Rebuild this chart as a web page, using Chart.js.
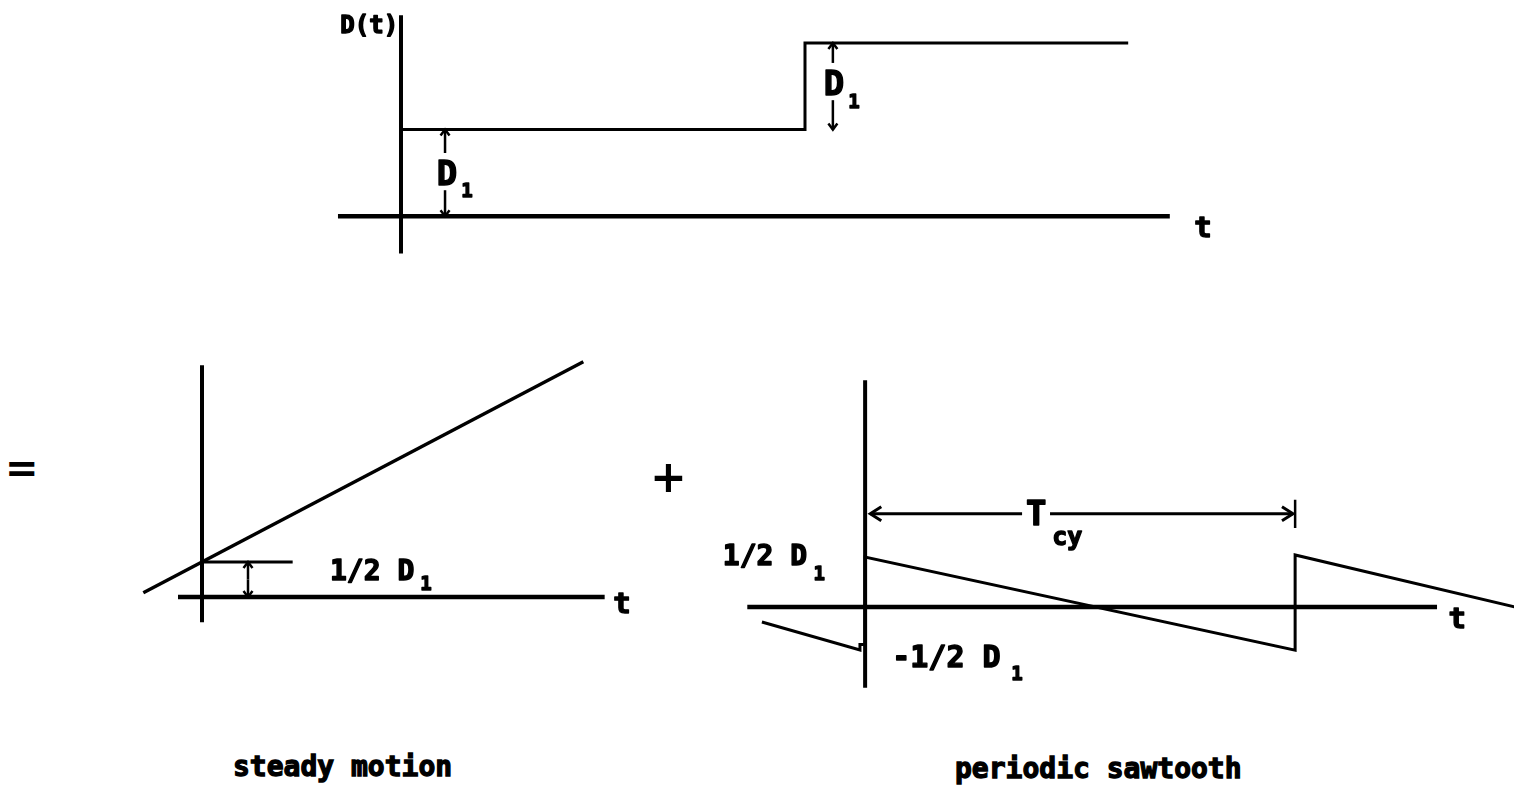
<!DOCTYPE html>
<html><head><meta charset="utf-8">
<script src="https://cdn.jsdelivr.net/npm/chart.js@4.4.1/dist/chart.umd.min.js"></script>
<style>
html,body{margin:0;padding:0;background:#fff;width:1514px;height:793px;overflow:hidden;}
.pane{position:absolute;}
.pane canvas{display:block;}
.txt{position:absolute;font-family:'DejaVu Sans Mono',monospace;font-weight:bold;color:#000;white-space:nowrap;line-height:1;-webkit-text-stroke:1.3px #000;}
.sym{position:absolute;font-family:'DejaVu Sans',sans-serif;font-weight:bold;color:#000;white-space:nowrap;line-height:1;}
</style></head><body>
<div class="pane" style="left:300px;top:0px;width:950px;height:280px"><canvas id="cTop" width="950" height="280"></canvas></div>
<div class="pane" style="left:102px;top:345px;width:560px;height:301px"><canvas id="cSteady" width="560" height="301"></canvas></div>
<div class="pane" style="left:700px;top:370px;width:814px;height:330px"><canvas id="cSaw" width="814" height="330"></canvas></div>
<div class="sym" style="left:5px;top:448px;font-size:40px">=</div>
<div class="sym" style="left:650px;top:455px;font-size:44px">+</div>
<div class="txt" style="left:233px;top:753px;font-size:28px">steady motion</div>
<div class="txt" style="left:955px;top:755px;font-size:28px">periodic sawtooth</div>
<script>
// ---------- Top panel: D(t), a step of height D1 at t = 0 and t = T ----------
const topStepT = [0, 0, 1, 1, 1.8];
const topStepD = [0, 1, 1, 2, 2];
const topTimeAxisT = [-0.156, 1.903];
const topValueAxisD = [-0.43, 2.32];
const topArrowT0 = [0.109, 0.109, 1.069, 1.069];
const topArrowD0 = [0.73, 0.30, 1.77, 1.34];
const topArrowD1 = [1, 0, 2, 1];
const topLabels = ['D(t)', 'D', '1', 'D', '1', 't'];
const topLabelT = [-0.007, 0.114, 0.163, 1.072, 1.121, 1.985];
const topLabelD = [2.115, 0.36, 0.22, 1.40, 1.25, -0.243];

// ---------- Bottom left: steady motion, D = 1/2 D1 + t ----------
const steadyT = [-0.44, 2.86];
const steadyD = [0.06, 3.36];
const steadyTimeAxisT = [-0.18, 3.02];
const steadyValueAxisD = [-0.36, 3.31];
const steadyHalfT = [0, 0.68];
const steadyHalfD = [0.5, 0.5];
const steadyArrowT = [0.345, 0.345];
const steadyArrowD0 = [0.25, 0.25];
const steadyArrowD1 = [0.5, 0];
const steadyLabels = ['1/2 D', '1', 't'];
const steadyLabelT = [0.96, 1.68, 3.15];
const steadyLabelD = [0.243, 0.10, -0.229];

// ---------- Bottom right: periodic sawtooth ----------
const sawT = [-0.24, -0.012, -0.012, 0, 0, 1, 1, 1.51];
const sawD = [-0.16, -0.457, -0.40, -0.40, 0.53, -0.46, 0.553, 0.0];
const sawTimeAxisT = [-0.274, 1.33];
const sawValueAxisD = [-0.86, 2.41];
const sawEndBarT = [1, 1];
const sawEndBarD = [1.14, 0.84];
const sawArrowT0 = [0.365, 0.43];
const sawArrowT1 = [0.012, 0.995];
const sawArrowD = [0.99, 0.99];
const sawLabels = ['1/2 D', '1', '-1/2 D', '1', 'T', 'cy', 't'];
const sawLabelT = [-0.135, -0.107, 0.063, 0.353, 0.398, 0.47, 1.377];
const sawLabelD = [0.447, 0.287, -0.638, -0.777, 0.872, 0.66, -0.223];

// ---------- drawing ----------
const MONO = "'DejaVu Sans Mono', monospace";
const F = {
  big: `bold 34px ${MONO}`,
  mid: `bold 28px ${MONO}`,
  wide: `bold 30px ${MONO}`,
  sub: `bold 19px ${MONO}`,
  cy: `bold 25px ${MONO}`,
  tl: `bold 29px ${MONO}`,
  dt: `bold 24px ${MONO}`
};

const annotPlugin = {
  id: 'annot',
  afterDatasetsDraw(chart, _a, o) {
    const ctx = chart.ctx, xs = chart.scales.x, ys = chart.scales.y;
    ctx.save();
    ctx.strokeStyle = '#000'; ctx.fillStyle = '#000';
    ctx.lineCap = 'butt'; ctx.lineJoin = 'miter';
    (o.arrows || []).forEach(a => {
      const x0 = xs.getPixelForValue(a.x0), y0 = ys.getPixelForValue(a.y0);
      const x1 = xs.getPixelForValue(a.x1), y1 = ys.getPixelForValue(a.y1);
      ctx.lineWidth = a.w;
      ctx.beginPath(); ctx.moveTo(x0, y0); ctx.lineTo(x1, y1); ctx.stroke();
      const len = Math.hypot(x1 - x0, y1 - y0) || 1, dx = (x1 - x0) / len, dy = (y1 - y0) / len;
      ctx.beginPath();
      ctx.moveTo(x1 - dx * a.L - dy * a.W, y1 - dy * a.L + dx * a.W);
      ctx.lineTo(x1, y1);
      ctx.lineTo(x1 - dx * a.L + dy * a.W, y1 - dy * a.L - dx * a.W);
      ctx.stroke();
    });
    ctx.lineJoin = 'round';
    (o.labels || []).forEach(l => {
      ctx.font = l.font; ctx.textAlign = l.align; ctx.textBaseline = 'alphabetic';
      const px = xs.getPixelForValue(l.x), py = ys.getPixelForValue(l.y);
      ctx.fillText(l.text, px, py);
      ctx.lineWidth = 1.4;
      ctx.strokeText(l.text, px, py);
    });
    ctx.restore();
  }
};

function seg(xv, yv, w) {
  return {
    data: xv.map((x, i) => ({ x, y: yv[i] })),
    borderColor: '#000', borderWidth: w, pointRadius: 0, pointHoverRadius: 0,
    tension: 0, fill: false, clip: false, borderCapStyle: 'butt', borderJoinStyle: 'miter'
  };
}
function labelsOf(texts, xv, yv, fonts, aligns) {
  return texts.map((t, i) => ({ text: t, x: xv[i], y: yv[i], font: fonts[i], align: aligns[i] }));
}
function build(id, xr, yr, datasets, arrows, labels) {
  new Chart(document.getElementById(id), {
    type: 'line',
    data: { datasets },
    options: {
      responsive: false, animation: false, events: [],
      layout: { padding: 0 },
      scales: {
        x: { type: 'linear', display: false, min: xr[0], max: xr[1] },
        y: { type: 'linear', display: false, min: yr[0], max: yr[1] }
      },
      plugins: { legend: { display: false }, tooltip: { enabled: false }, annot: { arrows, labels } }
    },
    plugins: [annotPlugin]
  });
}

// Top
build('cTop', [-0.25, 2.1015], [-0.737, 2.497], [
  seg(topTimeAxisT, [0, 0], 4.5),
  seg([0, 0], topValueAxisD, 4),
  seg(topStepT, topStepD, 3)
], topArrowT0.map((t, i) => ({ x0: t, y0: topArrowD0[i], x1: t, y1: topArrowD1[i], w: 2.5, L: 6, W: 4.5 })),
labelsOf(topLabels, topLabelT, topLabelD,
  [F.dt, F.big, F.sub, F.big, F.sub, F.tl],
  ['right', 'center', 'center', 'center', 'center', 'center']));

// Steady motion
build('cSteady', [-0.75, 3.45], [-0.7, 3.6], [
  seg(steadyTimeAxisT, [0, 0], 4.5),
  seg([0, 0], steadyValueAxisD, 4),
  seg(steadyHalfT, steadyHalfD, 3),
  seg(steadyT, steadyD, 3.5)
], steadyArrowT.map((t, i) => ({ x0: t, y0: steadyArrowD0[i], x1: t, y1: steadyArrowD1[i], w: 2.5, L: 6, W: 4.5 })),
labelsOf(steadyLabels, steadyLabelT, steadyLabelD,
  [F.mid, F.sub, F.tl], ['left', 'center', 'center']));

// Sawtooth
build('cSaw', [-0.384, 1.509], [-0.99, 2.52], [
  seg(sawTimeAxisT, [0, 0], 4.5),
  seg([0, 0], sawValueAxisD, 4),
  seg(sawEndBarT, sawEndBarD, 2.5),
  seg(sawT, sawD, 3)
], sawArrowT0.map((t, i) => ({ x0: t, y0: sawArrowD[i], x1: sawArrowT1[i], y1: sawArrowD[i], w: 3, L: 11, W: 7 })),
labelsOf(sawLabels, sawLabelT, sawLabelD,
  [F.mid, F.sub, F.wide, F.sub, F.big, F.cy, F.tl],
  ['right', 'center', 'left', 'center', 'center', 'center', 'center']));
</script>
</body></html>
